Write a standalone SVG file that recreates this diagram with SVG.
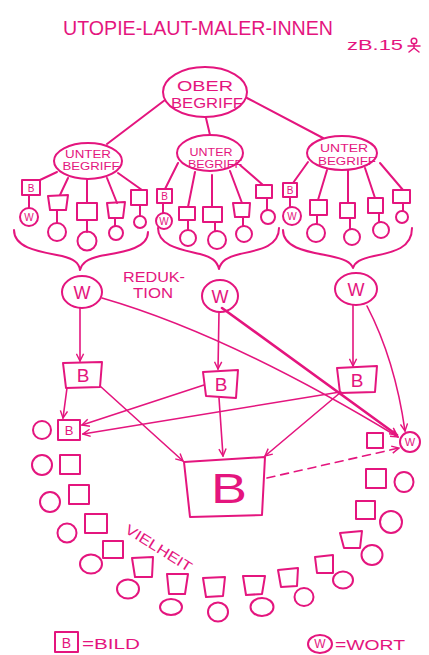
<svg xmlns="http://www.w3.org/2000/svg" width="429" height="655" viewBox="0 0 429 655">
<style>
.s{fill:none;stroke:#e4157e;stroke-width:2;stroke-linecap:round;stroke-linejoin:round}
.a{fill:none;stroke:#e4157e;stroke-width:1.6;stroke-linecap:round;marker-end:url(#ah)}
.t{font-family:"Liberation Sans",Arial,sans-serif;fill:#e4157e}
</style>
<defs>
<marker id="ah" viewBox="0 0 10 10" refX="9" refY="5" markerWidth="9" markerHeight="9" markerUnits="userSpaceOnUse" orient="auto"><path d="M1,1 L9,5 L1,9" fill="none" stroke="#e4157e" stroke-width="1.6"/></marker>
</defs>
<rect width="429" height="655" fill="#ffffff"/>

<g id="title">
<text class="t" x="63" y="35" font-size="20" textLength="270" lengthAdjust="spacingAndGlyphs">UTOPIE-LAUT-MALER-INNEN</text>
<text class="t" x="347" y="50" font-size="14" textLength="56" lengthAdjust="spacingAndGlyphs">zB.15</text>
<g class="s" style="stroke-width:1.5"><circle cx="414" cy="41" r="2.8"/><path d="M408,46 L420,46 M414,44 L414,48 L409,52 M414,48 L419,52"/></g>
</g>

<g id="connectors">
<path class="s" d="M165,100 L107,144 M206,118 L210,135 M247,98 L323,138"/>
<path class="s" d="M57,172 L40,180 M29,195 L29,208 M68,178 L60,195 M57,210 L57,223 M87,180 L87,203 M87,220 L87,232 M107,178 L117,203 M115,218 L115,226 M118,173 L142,190 M140,205 L140,216"/>
<path class="s" d="M178,163 L165,189 M163,203 L163,213 M195,172 L188,207 M188,220 L188,230 M212,175 L212,207 M215,222 L215,231 M230,171 L242,203 M243,217 L243,226 M240,165 L263,185 M267,198 L267,210"/>
<path class="s" d="M308,162 L293,183 M290,197 L290,207 M327,170 L318,200 M317,215 L317,224 M348,170 L348,203 M350,218 L350,229 M365,168 L375,198 M379,213 L379,222 M380,163 L403,190 M403,203 L403,211"/>
<path class="s" d="M14,230 C14,249 42,252 62,256 C74,259 79,263 80,270 C82,263 87,259 100,256 C122,252 148,249 148,232"/>
<path class="s" d="M158,228 C158,247 184,250 200,254 C212,257 217,261 219,269 C221,261 227,257 240,254 C258,250 279,247 279,228"/>
<path class="s" d="M283,230 C283,249 310,252 330,256 C344,259 351,262 353,268 C355,262 360,259 374,256 C394,252 412,248 412,228"/>
<path class="a" d="M80,308 L80,361"/>
<path class="a" d="M219,312 L218,369"/>
<path class="a" d="M353,305 L353,366"/>
<path class="a" d="M102,298 Q230,335 398,437"/>
<path class="a" d="M222,308 L397,435" style="stroke-width:2.6"/>
<path class="a" d="M367,306 Q395,360 405,431"/>
<path class="a" d="M67,388 L63,418"/>
<path class="a" d="M204,385 L82,425"/>
<path class="a" d="M340,392 L83,434"/>
<path class="a" d="M100,386 L183,461"/>
<path class="a" d="M219,398 L223,456"/>
<path class="a" d="M341,392 L265,456"/>
<path class="a" d="M267,478 L399,448" stroke-dasharray="8,6"/>
</g>

<g id="ober">
<ellipse class="s" cx="205" cy="92" rx="42" ry="25"/>
<text class="t" x="205" y="91" font-size="14" text-anchor="middle" textLength="56" lengthAdjust="spacingAndGlyphs">OBER</text>
<text class="t" x="207" y="108" font-size="14" text-anchor="middle" textLength="72" lengthAdjust="spacingAndGlyphs">BEGRIFF</text>
</g>

<g id="unter1">
<ellipse class="s" cx="88" cy="161" rx="34" ry="18"/>
<text class="t" x="88" y="158" font-size="11" text-anchor="middle" textLength="46" lengthAdjust="spacingAndGlyphs">UNTER</text>
<text class="t" x="91" y="170" font-size="11" text-anchor="middle" textLength="57" lengthAdjust="spacingAndGlyphs">BEGRIFF</text>
</g>
<g id="unter2">
<ellipse class="s" cx="210" cy="153" rx="33" ry="18"/>
<text class="t" x="211" y="156" font-size="11" text-anchor="middle" textLength="43" lengthAdjust="spacingAndGlyphs">UNTER</text>
<text class="t" x="215" y="168" font-size="11" text-anchor="middle" textLength="54" lengthAdjust="spacingAndGlyphs">BEGRIFF</text>
</g>
<g id="unter3">
<ellipse class="s" cx="342" cy="153" rx="35" ry="17"/>
<text class="t" x="344" y="152" font-size="11" text-anchor="middle" textLength="48" lengthAdjust="spacingAndGlyphs">UNTER</text>
<text class="t" x="347" y="165" font-size="11" text-anchor="middle" textLength="58" lengthAdjust="spacingAndGlyphs">BEGRIFF</text>
</g>

<g id="group1-items">
<rect class="s" x="22" y="180" width="18" height="15"/>
<text class="t" x="31" y="192" font-size="10" text-anchor="middle">B</text>
<circle class="s" cx="29" cy="217" r="9"/>
<text class="t" x="29" y="221" font-size="10" text-anchor="middle">W</text>
<path class="s" d="M48,196 L68,195 L66,210 L50,210 Z"/>
<circle class="s" cx="57" cy="232" r="9"/>
<rect class="s" x="77" y="203" width="20" height="17"/>
<circle class="s" cx="87" cy="241" r="9.5"/>
<path class="s" d="M107,203 L125,202 L123,218 L109,218 Z"/>
<circle class="s" cx="116" cy="233" r="7"/>
<rect class="s" x="131" y="190" width="16" height="15"/>
<circle class="s" cx="140" cy="222" r="6"/>
</g>
<g id="group2-items">
<rect class="s" x="157" y="189" width="15" height="14"/>
<text class="t" x="164.5" y="200" font-size="10" text-anchor="middle">B</text>
<circle class="s" cx="164" cy="221" r="8"/>
<text class="t" x="164" y="225" font-size="10" text-anchor="middle">W</text>
<rect class="s" x="179" y="207" width="16" height="13"/>
<circle class="s" cx="188" cy="238" r="8"/>
<rect class="s" x="203" y="207" width="19" height="15"/>
<circle class="s" cx="217" cy="240" r="9"/>
<path class="s" d="M233,203 L250,203 L249,217 L235,217 Z"/>
<circle class="s" cx="244" cy="234" r="8"/>
<rect class="s" x="256" y="185" width="16" height="13"/>
<circle class="s" cx="268" cy="217" r="7"/>
</g>
<g id="group3-items">
<rect class="s" x="283" y="183" width="14" height="14"/>
<text class="t" x="290" y="194" font-size="10" text-anchor="middle">B</text>
<circle class="s" cx="292" cy="216" r="9"/>
<text class="t" x="292" y="220" font-size="10" text-anchor="middle">W</text>
<rect class="s" x="310" y="200" width="17" height="15"/>
<circle class="s" cx="316" cy="233" r="9"/>
<rect class="s" x="340" y="203" width="15" height="15"/>
<circle class="s" cx="352" cy="237" r="8"/>
<rect class="s" x="368" y="198" width="15" height="15"/>
<circle class="s" cx="381" cy="230" r="8"/>
<rect class="s" x="393" y="190" width="17" height="13"/>
<circle class="s" cx="402" cy="217" r="6"/>
</g>

<g id="reduktion">
<text class="t" x="123" y="282" font-size="14" textLength="62" lengthAdjust="spacingAndGlyphs">REDUK-</text>
<text class="t" x="133" y="298" font-size="14" textLength="40" lengthAdjust="spacingAndGlyphs">TION</text>
</g>

<g id="w1"><ellipse class="s" cx="82" cy="292" rx="20" ry="16"/><text class="t" x="82" y="299" font-size="18" text-anchor="middle">W</text></g>
<g id="w2"><ellipse class="s" cx="220" cy="296" rx="18" ry="16"/><text class="t" x="220" y="303" font-size="18" text-anchor="middle">W</text></g>
<g id="w3"><ellipse class="s" cx="356" cy="289" rx="21" ry="16"/><text class="t" x="356" y="296" font-size="18" text-anchor="middle">W</text></g>

<g id="b1"><path class="s" d="M63,363 L102,362 L100,387 L66,388 Z"/><text class="t" x="83" y="382" font-size="19" text-anchor="middle">B</text></g>
<g id="b2"><path class="s" d="M203,372 L238,370 L236,398 L206,396 Z"/><text class="t" x="221" y="391" font-size="19" text-anchor="middle">B</text></g>
<g id="b3"><path class="s" d="M337,368 L377,366 L375,392 L340,393 Z"/><text class="t" x="357" y="387" font-size="19" text-anchor="middle">B</text></g>

<g id="small-b">
<circle class="s" cx="42" cy="430" r="9"/>
<rect class="s" x="58" y="420" width="22" height="20"/>
<text class="t" x="69" y="435" font-size="13" text-anchor="middle">B</text>
</g>
<g id="small-w">
<rect class="s" x="367" y="433" width="16" height="15"/>
<circle class="s" cx="410" cy="442" r="10"/>
<text class="t" x="410" y="446" font-size="11" text-anchor="middle">W</text>
</g>

<g id="big-b">
<path class="s" d="M184,462 L265,457 L262,515 L190,517 Z"/>
<text class="t" x="229" y="503" font-size="42" text-anchor="middle" textLength="36" lengthAdjust="spacingAndGlyphs">B</text>
</g>

<g id="vielheit">
<g class="s">
<circle cx="42" cy="465" r="10"/><rect x="60" y="455" width="20" height="19"/>
<circle cx="50" cy="502" r="10"/><rect x="69" y="485" width="20" height="19"/>
<circle cx="67" cy="533" r="9.5"/><rect x="85" y="514" width="22" height="19"/>
<ellipse cx="91" cy="564" rx="11" ry="9.5"/><rect x="103" y="541" width="20" height="17"/>
<ellipse cx="128" cy="589" rx="11" ry="9.5"/><path d="M132,558 L153,557 L152,577 L135,577 Z"/>
<ellipse cx="171" cy="607" rx="11" ry="8"/><path d="M167,574 L188,574 L185,594 L169,594 Z"/>
<ellipse cx="218" cy="612" rx="10" ry="9.5"/><path d="M203,578 L225,577 L223,596 L206,597 Z"/>
<ellipse cx="262" cy="607" rx="11.5" ry="9"/><path d="M243,576 L265,576 L262,594 L246,595 Z"/>
<ellipse cx="304" cy="597" rx="9.5" ry="9"/><path d="M278,570 L298,568 L297,586 L281,587 Z"/>
<ellipse cx="343" cy="580" rx="10" ry="8.5"/><path d="M315,557 L333,555 L333,573 L317,573 Z"/>
<ellipse cx="372" cy="555" rx="10.5" ry="10"/><path d="M340,533 L362,531 L360,548 L344,548 Z"/>
<ellipse cx="391" cy="522" rx="11" ry="11"/><rect x="356" y="501" width="19" height="18"/>
<ellipse cx="404" cy="482" rx="9.5" ry="10"/><rect x="366" y="469" width="20" height="19"/>
</g>
<text class="t" x="124" y="532" font-size="14" textLength="76" lengthAdjust="spacingAndGlyphs" transform="rotate(32 124 532)">VIELHEIT</text>
</g>

<g id="legend">
<rect class="s" x="55" y="632" width="23" height="20"/>
<text class="t" x="66.5" y="648" font-size="14" text-anchor="middle">B</text>
<text class="t" x="82" y="649" font-size="14" textLength="58" lengthAdjust="spacingAndGlyphs">=BILD</text>
<ellipse class="s" cx="320" cy="644" rx="12" ry="9"/>
<text class="t" x="320" y="648" font-size="12" text-anchor="middle">W</text>
<text class="t" x="335" y="650" font-size="14" textLength="70" lengthAdjust="spacingAndGlyphs">=WORT</text>
</g>
</svg>
